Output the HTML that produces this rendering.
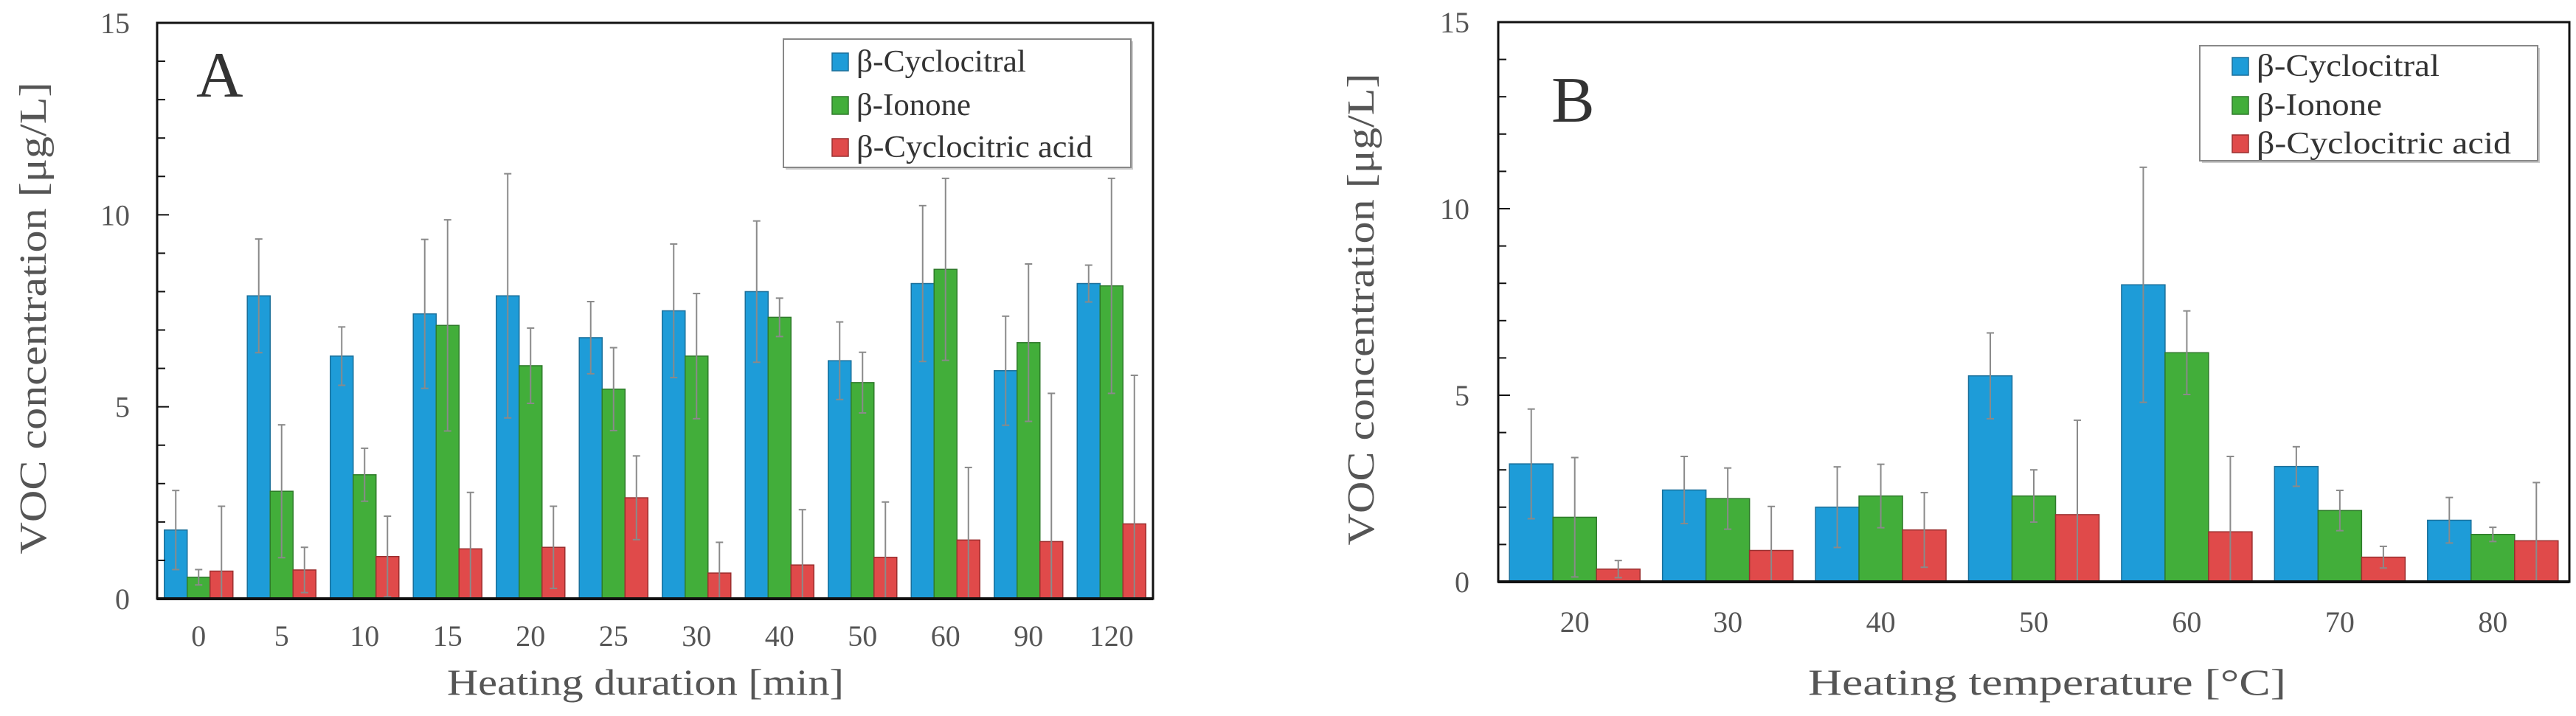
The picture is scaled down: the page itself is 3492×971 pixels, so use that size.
<!DOCTYPE html>
<html><head><meta charset="utf-8"><style>
html,body{margin:0;padding:0;background:#fff;}
svg{display:block;font-family:"Liberation Serif",serif;}
</style></head><body>
<svg id="fig" width="3492" height="971" viewBox="0 0 3492 971" xmlns="http://www.w3.org/2000/svg"></svg>
<script>
const catsA = ["0","5","10","15","20","25","30","40","50","60","90","120"];
const cycA = [1.79,7.89,6.32,7.42,7.89,6.8,7.5,8.0,6.2,8.21,5.94,8.21];
const cycErrA = [1.03,1.48,0.76,1.94,3.18,0.94,1.74,1.84,1.01,2.03,1.42,0.48];
const ionA = [0.56,2.8,3.23,7.12,6.07,5.46,6.32,7.33,5.63,8.58,6.67,8.15];
const ionErrA = [0.2,1.73,0.69,2.75,0.98,1.08,1.63,0.5,0.79,2.37,2.05,2.8];
const acidA = [0.72,0.75,1.1,1.3,1.34,2.63,0.67,0.88,1.08,1.53,1.49,1.95];
const acidErrA = [1.69,0.59,1.05,1.47,1.07,1.09,0.8,1.44,1.44,1.89,3.86,3.87];

const catsB = ["20","30","40","50","60","70","80"];
const cycB = [3.16,2.46,2.0,5.52,7.96,3.09,1.65];
const cycErrB = [1.47,0.9,1.08,1.15,3.15,0.53,0.61];
const ionB = [1.73,2.23,2.3,2.3,6.14,1.91,1.27];
const ionErrB = [1.6,0.82,0.85,0.7,1.12,0.54,0.19];
const acidB = [0.34,0.84,1.39,1.8,1.34,0.66,1.1];
const acidErrB = [0.23,1.18,1.0,2.53,2.02,0.29,1.56];

const yTicks = [0,5,10,15];
const seriesNames = ["β-Cyclocitral","β-Ionone","β-Cyclocitric acid"];

const NS="http://www.w3.org/2000/svg";
const svg=document.getElementById('fig');
function mk(tag,attrs,parent){const e=document.createElementNS(NS,tag);for(const k in attrs)e.setAttribute(k,attrs[k]);(parent||svg).appendChild(e);return e;}

function panel(cfg){
  const g=mk('g',{});
  
  
  const {L,R,T,B}=cfg;
  const y=v=>B-(v/15)*(B-T);
  const n=cfg.cats.length, gw=(R-L)/n;
  const colors=["#1e9cd8","#42ae3a","#e04a4a"];
  const strokes=["#1a6f9a","#2e7a2a","#9a2f2f"];
  const vals=[cfg.s1,cfg.s2,cfg.s3], errs=[cfg.e1,cfg.e2,cfg.e3];
  const bw=cfg.bw;
  // bars
  for(let i=0;i<n;i++){
    const cx=L+gw*(i+0.5);
    for(let s=0;s<3;s++){
      const x=cx-1.5*bw+s*bw;
      const r=mk('rect',{x:x,y:y(vals[s][i]),width:bw,height:B-y(vals[s][i]),fill:colors[s],stroke:strokes[s],'stroke-width':1.5},g);
      
      
    }
  }
  // error bars
  for(let i=0;i<n;i++){
    const cx=L+gw*(i+0.5);
    for(let s=0;s<3;s++){
      const x=cx-1.5*bw+s*bw+bw/2;
      const v=vals[s][i], e=errs[s][i];
      const hi=y(v+e), loV=v-e, lo=y(Math.max(0,loV));
      const eg=mk('g',{stroke:'#8a8a8a','stroke-width':2},g);
      
      
      mk('line',{x1:x,x2:x,y1:hi,y2:lo},eg);
      mk('line',{x1:x-5,x2:x+5,y1:hi,y2:hi},eg);
      if(loV>0) mk('line',{x1:x-5,x2:x+5,y1:lo,y2:lo},eg);
    }
  }
  // frame
  const fr=mk('rect',{x:L,y:T,width:R-L,height:B-T,fill:'none',stroke:'#111','stroke-width':3},g);
  
  
  mk('line',{x1:L,x2:R,y1:B,y2:B,stroke:'#111','stroke-width':4},g);
  // ticks
  for(let v=1;v<15;v++){
    const len=(v%5===0)?16:11;
    mk('line',{x1:L,x2:L+len,y1:y(v),y2:y(v),stroke:'#111','stroke-width':2},g);
  }
  yTicks.forEach(v=>{
    const t=mk('text',{x:cfg.tickX,y:y(v)+14,'text-anchor':'end','font-size':40,fill:'#555'},g);
    t.textContent=v;
    
    
  });
  cfg.cats.forEach((c,i)=>{
    const t=mk('text',{x:L+gw*(i+0.5),y:cfg.xLabY,'text-anchor':'middle','font-size':40,fill:'#555'},g);
    t.textContent=c;
    
    
  });
  // axis titles
  const yt=mk('text',{x:0,y:0,'text-anchor':'middle','font-size':52,fill:'#555',transform:`translate(${cfg.yTitleX},${(T+B)/2+10}) rotate(-90)`,textLength:640,lengthAdjust:'spacingAndGlyphs'},g);
  yt.textContent="VOC concentration [μg/L]";
  
  
  const xt=mk('text',{x:cfg.xTitleX,y:942,'text-anchor':'middle','font-size':50,fill:'#555',textLength:cfg.xTitleW,lengthAdjust:'spacingAndGlyphs'},g);
  xt.textContent=cfg.xTitle;
  
  
  // panel letter
  const pl=mk('text',{x:cfg.letterX,y:cfg.letterY,'font-size':88,fill:'#333'},g);
  pl.textContent=cfg.letter;
  
  
  // legend
  const lg=mk('g',{},g);
  
  
  mk('rect',{x:cfg.lg.x+3,y:cfg.lg.y+3,width:cfg.lg.w,height:cfg.lg.h,fill:'#ccc'},lg);
  mk('rect',{x:cfg.lg.x,y:cfg.lg.y,width:cfg.lg.w,height:cfg.lg.h,fill:'#fff',stroke:'#888','stroke-width':2},lg);
  seriesNames.forEach((nm,s)=>{
    const ry=cfg.lg.rows[s];
    const e=mk('g',{},lg);
    
    
    mk('rect',{x:cfg.lg.sx,y:ry-12,width:22,height:24,fill:colors[s],stroke:strokes[s],'stroke-width':1.5},e);
    const t=mk('text',{x:cfg.lg.sx+33,y:ry+13,'font-size':42,fill:'#333',textLength:cfg.lg.tw[s],lengthAdjust:'spacingAndGlyphs'},e);
    t.textContent=nm;
  });
}

panel({id:'panel-a',L:213,R:1563,T:31,B:812,bw:31,cats:catsA,
  s1:cycA,s2:ionA,s3:acidA,e1:cycErrA,e2:ionErrA,e3:acidErrA,
  tickX:176,xLabY:876,yTitleX:62,xTitle:"Heating duration [min]",xTitleX:875,xTitleW:538,
  letter:"A",letterX:266,letterY:131,
  lg:{x:1062,y:53,w:471,h:174,sx:1128,rows:[84,143,200],tw:[230,155,320]}});
panel({id:'panel-b',L:2031,R:3483,T:30,B:789,bw:59,cats:catsB,
  s1:cycB,s2:ionB,s3:acidB,e1:cycErrB,e2:ionErrB,e3:acidErrB,
  tickX:1992,xLabY:857,yTitleX:1862,xTitle:"Heating temperature [°C]",xTitleX:2775,xTitleW:648,
  letter:"B",letterX:2103,letterY:165,
  lg:{x:2982,y:62,w:458,h:156,sx:3026,rows:[90,143,195],tw:[248,170,345]}});
</script>
</body></html>
